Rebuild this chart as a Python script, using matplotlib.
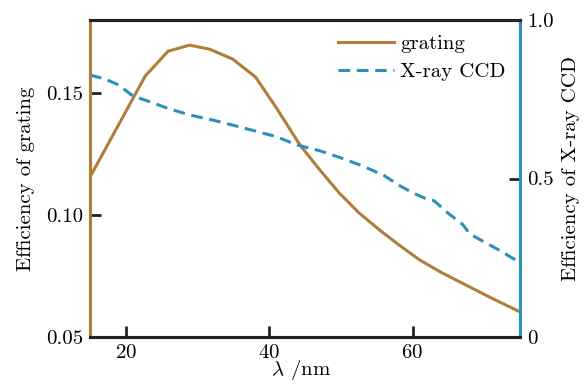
import matplotlib
matplotlib.use("Agg")
import matplotlib.pyplot as plt

plt.rcParams['font.family'] = ['cmr10', 'DejaVu Serif']
plt.rcParams['axes.formatter.use_mathtext'] = True
plt.rcParams['mathtext.fontset'] = 'cm'

grating_x = [15, 22.7, 25.9, 28.9, 31.7, 34.9, 38.1, 41, 44.3, 47.1, 49.8, 52.5, 55.4, 58, 61, 64, 68, 71, 75]
grating_y = [0.1156, 0.157, 0.1672, 0.1697, 0.168, 0.164, 0.1566, 0.144, 0.1287, 0.1184, 0.109,
             0.101, 0.0939, 0.088, 0.0816, 0.0765, 0.0705, 0.066, 0.0603]

ccd_x = [15, 17, 19, 21, 23, 26, 29, 32, 35, 38, 41, 44, 47, 50, 53, 56, 58, 60, 62, 63, 65, 67, 68, 70, 72, 75]
ccd_y = [0.826, 0.815, 0.795, 0.76, 0.745, 0.72, 0.70, 0.685, 0.668, 0.65, 0.632, 0.605, 0.588, 0.565,
         0.54, 0.51, 0.48, 0.455, 0.435, 0.43, 0.39, 0.355, 0.325, 0.30, 0.275, 0.235]

x_ticks = [20, 40, 60]
left_ticks = [0.05, 0.10, 0.15]
left_labels = ["0.05", "0.10", "0.15"]
right_ticks = [0, 0.5, 1.0]
right_labels = ["0", "0.5", "1.0"]

brown = '#B17D3C'
blue = '#2C90BB'
FS = 15

fig = plt.figure(figsize=(5.85, 3.84), dpi=100)
ax = fig.add_axes([90/585, 47/384, 430/585, 317/384])
ax2 = ax.twinx()

l1, = ax.plot(grating_x, grating_y, color=brown, lw=2.2, label='grating')
l2, = ax2.plot(ccd_x, ccd_y, color=blue, lw=2.2, ls=(0, (3.8, 2.2)), label='X-ray CCD')

ax.set_xlim(15, 75)
ax.set_ylim(0.05, 0.18)
ax2.set_ylim(0, 1.0)

ax.set_xticks(x_ticks)
ax.set_yticks(left_ticks)
ax.set_yticklabels(left_labels)
ax2.set_yticks(right_ticks)
ax2.set_yticklabels(right_labels)

for a in (ax, ax2):
    for s in a.spines.values():
        s.set_linewidth(2.2)
        s.set_color('#222222')
    a.tick_params(direction='in', length=8, width=2, labelsize=FS, color='#222222', pad=5)
ax.spines['left'].set_color(brown)
ax2.spines['left'].set_color(brown)
ax2.spines['right'].set_color(blue)
ax.spines['right'].set_color(blue)

ax.set_xlabel(r'$\lambda$ /nm', fontsize=FS)
ax.xaxis.set_label_coords(0.49, -0.066)
ax.set_ylabel('Efficiency of grating', fontsize=FS)
ax.yaxis.set_label_coords(-0.128, 0.5)
ax2.set_ylabel('Efficiency of X-ray CCD', fontsize=FS)
ax2.yaxis.set_label_coords(1.098, 0.53)

ax2.legend([l1, l2], ['grating', 'X-ray CCD'], loc='upper right', frameon=False, fontsize=FS,
           handlelength=2.7, handletextpad=0.3, labelspacing=0.45, borderaxespad=0.3,
           bbox_to_anchor=(1.0, 1.0))

fig.savefig('out.png', dpi=100)
